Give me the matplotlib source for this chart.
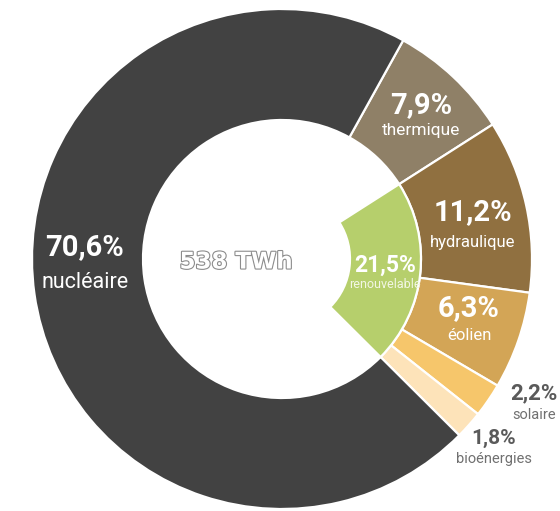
import matplotlib
matplotlib.use("Agg")
import matplotlib.pyplot as plt
import matplotlib.patheffects as pe

# production d'electricite par filiere (%)
filieres = ["thermique", "hydraulique", "éolien", "solaire", "bioénergies", "nucléaire"]
parts = [7.9, 11.2, 6.3, 2.2, 1.8, 70.6]
couleurs = ["#8f8067", "#907040", "#d3a556", "#f6c66b", "#fde3b9", "#424242"]
renouvelable = 21.5
total_twh = 538

W, H = 560, 511
cx, cy = 282, H - 259
R = 250
r_trou = 139
r_vert = 68
depart = 61  # angle de depart du premier secteur (thermique)


def fmt(v):
    return ("%.1f" % v).replace(".", ",") + "%"


fig = plt.figure(figsize=(W / 100, H / 100), dpi=100)
ax = fig.add_axes([0, 0, 1, 1])

ax.pie(parts, colors=couleurs, radius=R, center=(cx, cy), startangle=depart,
       counterclock=False,
       wedgeprops=dict(width=R - r_trou, edgecolor="white", linewidth=1.6))

# secteur interieur des renouvelables, aligne sur hydraulique..bioenergies
wedges, _ = ax.pie([renouvelable, 100 - renouvelable], colors=["#b6cf6c", "none"],
                   radius=r_trou, center=(cx, cy),
                   startangle=depart - parts[0] * 3.6, counterclock=False,
                   wedgeprops=dict(width=r_trou - r_vert, edgecolor="white", linewidth=1.6))
wedges[1].set_visible(False)

ax.set_xlim(0, W)
ax.set_ylim(0, H)
ax.set_aspect("equal")
ax.axis("off")

police = "Roboto"


def etiquette(x, y, pct, nom, t1, t2, dy, c1="white", c2="white"):
    ax.text(x, H - y, fmt(pct), ha="center", va="center", fontsize=t1,
            fontweight="bold", color=c1, family=police)
    ax.text(x, H - y - dy, nom, ha="center", va="center", fontsize=t2,
            color=c2, family=police)


etiquette(85, 247, parts[5], filieres[5], 21, 15.5, 36)
etiquette(421, 105, parts[0], filieres[0], 21, 12.5, 25)
etiquette(473, 212, parts[1], filieres[1], 21, 12, 30)
etiquette(469, 308, parts[2], filieres[2], 21, 12, 27)
etiquette(534, 393, parts[3], filieres[3], 16, 10.5, 22, "#5a5a5a", "#707070")
etiquette(494, 438, parts[4], filieres[4], 15, 10.5, 21, "#5a5a5a", "#707070")
etiquette(385, 265, renouvelable, "renouvelable", 16.5, 9, 20, "white", "#f2f6e4")

# total au centre : lettres blanches cerclees de gris
ax.text(236, H - 262, "%d TWh" % total_twh, ha="center", va="center",
        fontsize=16.5, fontweight="bold", color="white", family="DejaVu Sans",
        path_effects=[pe.withStroke(linewidth=1.6, foreground="#8c8c8c")])

fig.savefig("out.png", dpi=100, facecolor="white")
